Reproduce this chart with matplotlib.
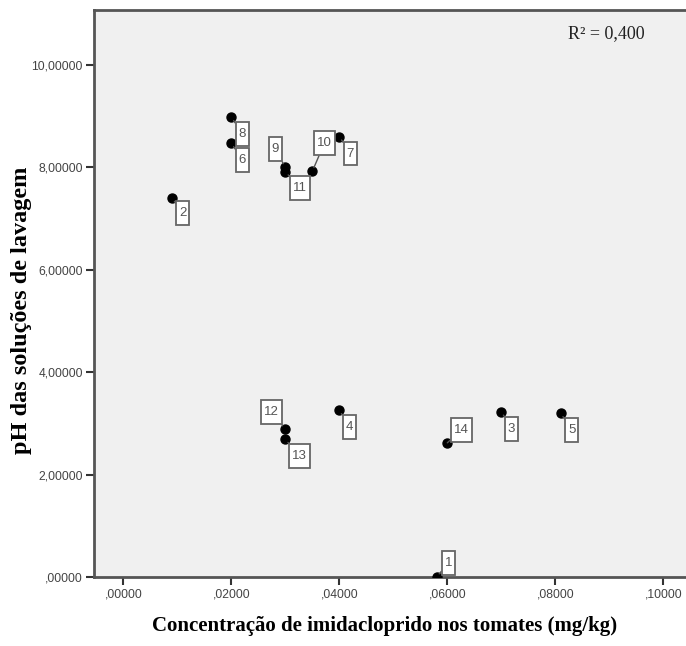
import matplotlib.pyplot as plt
from matplotlib.path import Path
from matplotlib.ticker import FuncFormatter

# point ids, concentration (mg/kg) and pH
ids = [1, 2, 3, 4, 5, 6, 7, 8, 9, 10, 11, 12, 13, 14]
conc = [0.058, 0.009, 0.070, 0.040, 0.081, 0.020, 0.040, 0.020, 0.030, 0.035, 0.030, 0.030, 0.030, 0.060]
ph = [0.0, 7.40, 3.23, 3.26, 3.20, 8.47, 8.60, 8.98, 8.00, 7.92, 7.91, 2.89, 2.69, 2.62]

x_ticks = [0.0, 0.02, 0.04, 0.06, 0.08, 0.10]
y_ticks = [0, 2, 4, 6, 8, 10]
r2_text = "R² = 0,400"

# label offsets (pixels) of each id box from its point
label_off = {1: (12, 14), 2: (11, -15), 3: (10, -17), 4: (10, -17), 5: (11, -17),
             6: (11, -17), 7: (11, -17), 8: (11, -17), 9: (-10, 18), 10: (12, 28),
             11: (15, -16), 12: (-14, 17), 13: (14, -17), 14: (14, 13)}


def tall_box(x0, y0, width, height, mutation_size):
    # SPSS style id box: narrow sides, tall top/bottom padding
    px = 0.22 * mutation_size
    py = 0.45 * mutation_size
    return Path([(x0 - px, y0 - py), (x0 + width + px, y0 - py),
                 (x0 + width + px, y0 + height + py), (x0 - px, y0 + height + py),
                 (x0 - px, y0 - py)], closed=True)


def fmt(v, p):
    s = f"{v:.5f}".replace(".", ",")
    return s[1:] if s.startswith("0") else s


fig = plt.figure(figsize=(6.86, 6.46), dpi=100)
ax = fig.add_axes([0.137, 0.1068, 0.863, 0.8777])
ax.set_facecolor('#f0f0f0')

ax.scatter(conc, ph, s=42, color='black', zorder=3)

for i, xv, yv in zip(ids, conc, ph):
    dx, dy = label_off[i]
    ax.annotate(str(i), (xv, yv), xytext=(dx * 0.72, dy * 0.72), textcoords='offset points',
                ha='center', va='center', fontsize=9.5, color='#555555', family='Liberation Sans',
                bbox=dict(boxstyle=tall_box, fc='white', ec='#666666', lw=1.3),
                arrowprops=dict(arrowstyle='-', color='#555555', lw=1, shrinkA=0, shrinkB=3),
                zorder=4)

ax.set_xlim(-0.00543, 0.1042)
ax.set_ylim(0, 11.07)
ax.set_xticks(x_ticks)
ax.set_yticks(y_ticks)
ax.xaxis.set_major_formatter(FuncFormatter(fmt))
ax.yaxis.set_major_formatter(FuncFormatter(fmt))
ax.tick_params(direction='out', length=6, width=1.5, color='#333333', labelsize=8.7,
               labelcolor='#444444', pad=2)
for lab in ax.get_xticklabels() + ax.get_yticklabels():
    lab.set_family('Liberation Sans')

for side in ['left', 'bottom', 'top']:
    ax.spines[side].set_color('#555555')
    ax.spines[side].set_linewidth(2)
ax.spines['right'].set_visible(False)

ax.set_xlabel('Concentração de imidacloprido nos tomates (mg/kg)', family='Liberation Serif',
              fontweight='bold', fontsize=15)
ax.set_ylabel('pH das soluções de lavagem', family='Liberation Serif',
              fontweight='bold', fontsize=17.5)
ax.xaxis.set_label_coords(0.49, -0.068)
ax.yaxis.set_label_coords(-0.105, 0.47)

ax.text(0.93, 0.959, r2_text, transform=ax.transAxes, ha='right', va='center',
        family='Liberation Serif', fontsize=13, color='#222222')

fig.savefig('out.png', dpi=100, facecolor='white')
